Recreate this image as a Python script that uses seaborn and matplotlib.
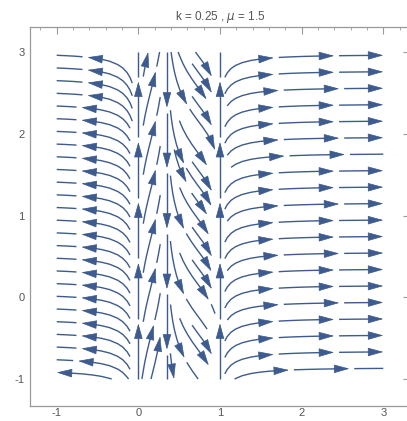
import numpy as np
import matplotlib
matplotlib.use("Agg")
import matplotlib.pyplot as plt
from matplotlib.ticker import MultipleLocator
from matplotlib.collections import LineCollection
from matplotlib.patches import FancyArrowPatch
import seaborn as sns

# parameters shown in the title
k_value = 0.25
mu_value = 1.5
# plotted region of the vector field
x_range = [-1.0, 3.0]
y_range = [-1.0, 3.0]
# tick labels
x_ticks = [-1, 0, 1, 2, 3]
y_ticks = [-1, 0, 1, 2, 3]
# field: dx/dt = x ; dy/dt = gain / ((x - x_split)(x - x_upper))
x_split = 0.35
x_upper = 1.0
gain = 0.1

sns.set_theme(style="white")
plt.rcParams['font.family'] = ['Liberation Sans', 'DejaVu Sans']

fig = plt.figure(figsize=(4.07, 4.21), dpi=100)
ax = fig.add_axes([30 / 407, 15 / 421, 380 / 407, 379.3 / 421])

# grid with exact columns at x = 0, x_split and x_upper
xs = np.arange(-100, 301) / 100.0
ys = np.arange(-100, 301) / 100.0
X, Y = np.meshgrid(xs, ys)
D = (X - x_split) * (X - x_upper)
norm = np.sqrt((X * D) ** 2 + gain ** 2)
U = X * np.abs(D) / norm
V = gain * np.sign(D) / norm
i_split = int(np.argmin(np.abs(xs - x_split)))
i_upper = int(np.argmin(np.abs(xs - x_upper)))
# the field is singular on these lines: keep streams from crossing them
U[:, i_split - 1], V[:, i_split - 1] = 0.0, 1.0
U[:, i_split], V[:, i_split] = 0.0, -1.0
U[:, i_upper - 1], V[:, i_upper - 1] = 0.0, -1.0
U[:, i_upper], V[:, i_upper] = 0.0, 1.0

# seed points (invariant vertical lines first, then rows, then middle)
seeds = [(0.0, 1.0), (x_split, 1.0), (x_upper, 1.0)]
seeds += [(-0.995, yy) for yy in np.linspace(-0.92, 2.96, 26)]
seeds += [(2.995, yy) for yy in np.linspace(-0.87, 2.96, 20)]
for yy in np.arange(-0.9, 3.0, 0.2):
    for xx in np.arange(0.06, 0.99, 0.12):
        seeds.append((xx, yy))
seeds = np.array(seeds)

stream_color = '#3D5B8E'
sset = ax.streamplot(X, Y, U, V, start_points=seeds, density=(1.25, 0.9),
                     color=stream_color, linewidth=1.0, arrowsize=0.01,
                     broken_streamlines=True, minlength=0.06)
paths = [np.asarray(p) for p in sset.lines.get_segments()]
sset.lines.remove()
for p in list(ax.patches):
    p.remove()

# split every streamline into arrow pieces
piece_len = 0.68
gap_len = 0.06
pieces, arrows = [], []
for p in paths:
    if len(p) < 2:
        continue
    s = np.concatenate([[0.0], np.cumsum(np.hypot(np.diff(p[:, 0]), np.diff(p[:, 1])))])
    total = s[-1]
    start = 0.0
    first = True
    while start < total - 0.03:
        end = min(start + piece_len, total)
        length = end - start
        ss = np.concatenate([[start], s[(s > start) & (s < end)], [end]])
        px = np.interp(ss, s, p[:, 0])
        py = np.interp(ss, s, p[:, 1])
        if length >= piece_len - 1e-9 or length >= 0.45 or (first and length >= 0.25):
            back = max(end - 0.12, start)
            bx, by = np.interp(back, s, p[:, 0]), np.interp(back, s, p[:, 1])
            arrows.append(((bx, by), (px[-1], py[-1])))
            cut = max(end - 0.06, start)
            keep = ss <= cut
            ss2 = np.concatenate([ss[keep], [cut]])
            px = np.interp(ss2, s, p[:, 0])
            py = np.interp(ss2, s, p[:, 1])
        elif length < 0.1:
            start = end + gap_len
            continue
        pieces.append(np.column_stack([px, py]))
        start = end + gap_len
        first = False

ax.add_collection(LineCollection(pieces, colors=stream_color, linewidths=1.0,
                                 capstyle='butt', zorder=2))
for (a, b) in arrows:
    ax.add_patch(FancyArrowPatch(a, b, arrowstyle='-|>,head_length=0.9,head_width=0.25',
                                 mutation_scale=11, color=stream_color, lw=0.5,
                                 shrinkA=0, shrinkB=0, zorder=3))

ax.set_xlim(-1.327, 3.327)
ax.set_ylim(-1.33, 3.31)
ax.set_xticks(x_ticks)
ax.set_yticks(y_ticks)
ax.set_xticklabels([str(t) for t in x_ticks])
ax.set_yticklabels([str(t) for t in y_ticks])
ax.xaxis.set_minor_locator(MultipleLocator(0.2))
ax.yaxis.set_minor_locator(MultipleLocator(0.2))
ax.tick_params(which='both', direction='in', top=True, right=True,
               color='#9a9a9a', labelcolor='#555555', labelsize=8)
ax.tick_params(axis='x', pad=1.5)
ax.tick_params(axis='y', pad=4)
ax.tick_params(which='major', length=5, width=0.8)
ax.tick_params(which='minor', length=2.5, width=0.6)
for s_ in ax.spines.values():
    s_.set_color('#9a9a9a')
    s_.set_linewidth(0.9)

ax.set_title(r"k = %g , $\mu$ = %g" % (k_value, mu_value), fontsize=8.5,
             color='#555555', pad=5)

fig.savefig("out.png", dpi=100)
